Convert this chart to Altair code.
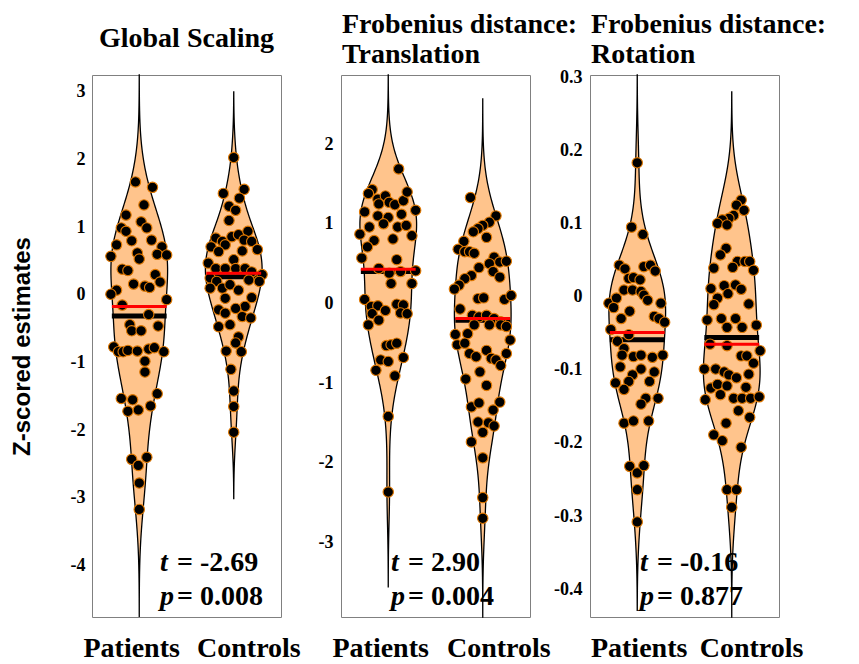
import altair as alt
import pandas as pd

# ---------------- data ----------------
GROUPS = ["Patients", "Controls"]

# Panel 1: Global Scaling
p1_pat_dx = [-0.04, 0.14, 0.05, -0.14, 0.02, -0.19, 0.08, -0.14, -0.08, 0.13, -0.24, 0.24, -0.02, -0.30, 0.00, 0.19, 0.29,
             -0.18, -0.12, 0.17, -0.06, 0.06, 0.11, 0.22, -0.24, -0.30, 0.29, -0.18, 0.10, -0.10, 0.20, -0.08, 0.02,
             -0.27, -0.22, -0.17, -0.12, -0.02, 0.10, 0.16, 0.26, 0.06, 0.06, -0.19, -0.07, 0.19, -0.12, -0.01, 0.12,
             -0.08, -0.01, 0.08, 0.00, 0.00]
p1_pat_v = [1.67, 1.59, 1.33, 1.18, 1.08, 0.99, 0.99, 0.94, 0.80, 0.81, 0.74, 0.71, 0.62, 0.57, 0.53, 0.60, 0.59,
            0.38, 0.36, 0.30, 0.16, 0.13, 0.11, 0.19, 0.07, 0.01, -0.07, -0.15, -0.29, -0.44, -0.46, -0.53, -0.53,
            -0.77, -0.84, -0.84, -0.82, -0.83, -0.80, -0.78, -0.84, -0.98, -1.14, -1.53, -1.55, -1.46, -1.72, -1.70, -1.64,
            -2.43, -2.52, -2.40, -2.78, -3.17]
p1_con_dx = [0.00, -0.11, 0.11, 0.06, -0.05, 0.02, -0.05, -0.19, -0.12, -0.24, -0.09, -0.16, -0.02, 0.05, 0.15, 0.11, 0.19,
             0.25, 0.09, 0.00, -0.27, -0.19, -0.09, 0.02, 0.12, 0.19, 0.30, -0.25, -0.18, -0.25, -0.12, -0.04, 0.05,
             0.16, 0.27, -0.09, 0.19, 0.12, -0.16, -0.09, 0.02, 0.09, 0.18, -0.16, -0.04, 0.05, 0.02, -0.08, 0.08,
             -0.03, 0.00, 0.00, 0.00]
p1_con_v = [2.03, 1.50, 1.56, 1.43, 1.31, 1.25, 1.10, 0.84, 0.79, 0.71, 0.74, 0.64, 0.86, 0.89, 0.94, 0.81, 0.79,
            0.67, 0.65, 0.52, 0.47, 0.39, 0.39, 0.39, 0.39, 0.34, 0.30, 0.25, 0.20, 0.10, 0.10, 0.15, 0.07,
            0.22, 0.20, -0.05, -0.04, -0.17, -0.22, -0.27, -0.20, -0.32, -0.34, -0.47, -0.44, -0.62, -0.71, -0.83, -0.84,
            -1.10, -1.42, -1.65, -2.03]

# Panel 2: Frobenius distance: Translation
p2_pat_dx = [0.11, -0.17, -0.21, -0.11, -0.03, -0.10, 0.01, 0.07, 0.16, 0.20, 0.29, -0.25, -0.11, 0.00, 0.14, -0.20, -0.05,
             0.10, 0.19, -0.30, 0.25, -0.15, 0.05, -0.22, -0.28, 0.09, -0.10, 0.01, 0.13, 0.29, 0.03, 0.25, -0.25,
             -0.18, -0.11, -0.17, -0.03, 0.09, 0.16, 0.13, 0.20, -0.21, -0.10, -0.02, 0.03, 0.09, -0.08, 0.00, 0.16,
             -0.13, 0.07, 0.00, 0.00]
p2_pat_v = [1.69, 1.43, 1.38, 1.31, 1.35, 1.25, 1.27, 1.24, 1.29, 1.40, 1.17, 1.15, 1.10, 1.08, 1.12, 0.96, 1.00,
            0.96, 0.98, 0.87, 0.85, 0.79, 0.81, 0.71, 0.57, 0.55, 0.44, 0.38, 0.40, 0.41, 0.25, 0.25, 0.05,
            -0.04, -0.03, -0.13, -0.09, -0.01, -0.02, -0.12, -0.13, -0.27, -0.21, -0.53, -0.52, -0.50, -0.71, -0.73, -0.68,
            -0.84, -0.91, -1.42, -2.37]
p2_con_dx = [-0.13, 0.14, 0.07, 0.00, -0.05, -0.10, 0.04, -0.20, -0.26, -0.19, -0.14, -0.09, 0.12, 0.07, 0.18, 0.25, -0.04,
             0.11, 0.18, -0.12, -0.19, -0.25, -0.30, -0.05, 0.01, 0.23, 0.30, -0.24, -0.11, -0.04, 0.04, 0.12, 0.19,
             -0.09, 0.07, 0.19, 0.25, -0.29, -0.16, -0.27, -0.19, 0.29, -0.14, -0.07, 0.04, 0.09, 0.14, 0.19, 0.25,
             -0.03, -0.18, 0.04, -0.12, -0.04, 0.18, 0.11, -0.05, 0.06, 0.12, 0.00, -0.12, 0.00, 0.00, 0.00]
p2_con_v = [1.33, 1.10, 1.02, 0.98, 0.94, 0.90, 0.83, 0.78, 0.68, 0.65, 0.65, 0.63, 0.58, 0.50, 0.52, 0.53, 0.45,
            0.40, 0.33, 0.35, 0.31, 0.23, 0.18, 0.06, 0.07, 0.05, 0.10, -0.07, -0.15, -0.17, -0.15, -0.19, -0.23,
            -0.27, -0.27, -0.27, -0.29, -0.39, -0.38, -0.52, -0.50, -0.46, -0.63, -0.67, -0.59, -0.69, -0.71, -0.78, -0.63,
            -0.86, -0.95, -1.03, -1.30, -1.25, -1.24, -1.34, -1.49, -1.50, -1.54, -1.62, -1.74, -1.94, -2.44, -2.70]

# Panel 3: Frobenius distance: Rotation
p3_pat_dx = [0.00, -0.06, 0.06, -0.19, -0.13, 0.07, 0.14, 0.19, -0.09, -0.04, 0.03, -0.14, -0.05, 0.04, 0.07, 0.11, -0.30,
             -0.22, -0.25, -0.08, -0.17, 0.25, 0.18, 0.23, 0.29, -0.28, -0.09, -0.21, -0.14, -0.16, -0.04, 0.04, 0.16,
             0.27, -0.18, 0.04, -0.05, 0.18, -0.23, -0.09, 0.13, -0.14, 0.09, 0.04, 0.22, -0.14, -0.04, 0.12, -0.08,
             0.00, 0.07, 0.00, 0.00]
p3_pat_v = [0.183, 0.095, 0.085, 0.043, 0.038, 0.041, 0.043, 0.035, 0.025, 0.026, 0.023, 0.009, 0.009, 0.007, 0.002, -0.005, -0.009,
            -0.002, -0.015, -0.020, -0.030, -0.009, -0.027, -0.030, -0.035, -0.045, -0.052, -0.061, -0.071, -0.080, -0.082, -0.080, -0.083,
            -0.080, -0.096, -0.099, -0.107, -0.103, -0.118, -0.116, -0.116, -0.127, -0.139, -0.147, -0.139, -0.173, -0.170, -0.170, -0.232,
            -0.241, -0.231, -0.264, -0.308]
p3_con_dx = [0.10, 0.05, 0.13, 0.02, -0.03, -0.10, -0.15, -0.05, -0.06, -0.12, 0.06, 0.14, 0.19, 0.01, -0.19, 0.23, 0.04,
             -0.08, 0.10, -0.22, -0.04, -0.15, -0.19, 0.18, -0.26, -0.11, 0.04, -0.05, 0.11, 0.26, -0.23, -0.05, 0.10,
             0.16, 0.30, 0.23, -0.29, -0.17, -0.08, -0.03, 0.05, 0.18, -0.22, -0.15, -0.05, 0.15, -0.28, -0.12, 0.02,
             0.11, 0.20, 0.29, 0.07, 0.19, -0.06, -0.19, -0.10, 0.10, -0.05, 0.05, 0.00]
p3_con_v = [0.132, 0.125, 0.118, 0.111, 0.107, 0.105, 0.100, 0.098, 0.066, 0.057, 0.048, 0.048, 0.048, 0.040, 0.039, 0.036, 0.016,
            0.015, 0.010, 0.011, 0.004, -0.002, -0.011, -0.010, -0.032, -0.030, -0.030, -0.042, -0.042, -0.039, -0.065, -0.067, -0.081,
            -0.081, -0.074, -0.091, -0.099, -0.099, -0.103, -0.107, -0.111, -0.106, -0.125, -0.120, -0.122, -0.124, -0.141, -0.134, -0.139,
            -0.139, -0.139, -0.137, -0.156, -0.165, -0.173, -0.189, -0.197, -0.206, -0.264, -0.264, -0.288]

# group means (red) and medians (black)
means = [[-0.17, 0.32], [0.43, -0.19], [-0.049, -0.065]]
medians = [[-0.31, 0.27], [0.40, -0.21], [-0.059, -0.056]]

# violin extents [low, high] per group
extents = [
    [[-4.75, 3.25], [-3.01, 3.00]],
    [[-3.56, 2.87], [-3.94, 2.57]],
    [[-0.429, 0.303], [-0.438, 0.280]],
]

# axes
y_domains = [[-4.76, 3.25], [-3.94, 2.87], [-0.438, 0.303]]
y_ticks = [[-4, -3, -2, -1, 0, 1, 2, 3], [-3, -2, -1, 0, 1, 2], [-0.4, -0.3, -0.2, -0.1, 0, 0.1, 0.2, 0.3]]

titles = ["Global Scaling", "Frobenius distance:\nTranslation", "Frobenius distance:\nRotation"]
t_vals = ["-2.69", "2.90", "-0.16"]
p_vals = ["0.008", "0.004", "0.877"]
label_pos = [[0.92, 2.16], [0.92, 2.17], [1.02, 2.21]]

# ---------------- styling ----------------
W, H = 189, 542
FILL = "#FFC48C"
EDGE = "#E07800"
SERIF = "Liberation Serif"
SANS = "Liberation Sans"


def panel(k, pat_dx, pat_v, con_dx, con_v):
    df = pd.DataFrame({
        "group": [1] * len(pat_v) + [2] * len(con_v),
        "dx": pat_dx + con_dx,
        "v": pat_v + con_v,
    })
    yscale = alt.Scale(domain=y_domains[k], nice=False, zero=False)
    xscale = alt.Scale(domain=[0.5, 2.5], nice=False, zero=False)
    if k == 0:
        yaxis = alt.Axis(values=y_ticks[k], labelExpr="'' + datum.value", domain=False, ticks=False, grid=False,
                         labelFont=SERIF, labelFontWeight="bold", labelFontSize=18, labelColor="black",
                         labelPadding=7, title="Z-scored estimates", titleFont=SANS, titleFontSize=24,
                         titleFontWeight="bold", titleColor="black", titlePadding=36)
    else:
        yaxis = alt.Axis(values=y_ticks[k], labelExpr="'' + datum.value", domain=False, ticks=False, grid=False,
                         labelFont=SERIF, labelFontWeight="bold", labelFontSize=18, labelColor="black",
                         labelPadding=8, title=None)

    layers = []
    for gi, g in enumerate([1, 2]):
        v = alt.Chart(df).transform_filter(alt.datum.group == g).transform_density(
            "v", as_=["v", "density"], extent=extents[k][gi], steps=300
        ).transform_joinaggregate(maxd="max(density)").transform_calculate(
            xl=f"{g} - 0.3 * datum.density / datum.maxd",
            xr=f"{g} + 0.3 * datum.density / datum.maxd",
        ).mark_area(orient="horizontal", fill=FILL, stroke="black", strokeWidth=1.3).encode(
            y=alt.Y("v:Q", scale=yscale, axis=yaxis),
            x=alt.X("xl:Q", scale=xscale, axis=None),
            x2="xr:Q",
        )
        layers.append(v)

    stats = pd.DataFrame({"group": [1, 2], "mean": means[k], "median": medians[k]})
    med = alt.Chart(stats).transform_calculate(
        xa="datum.group - 0.29", xb="datum.group + 0.29"
    ).mark_rule(color="black", strokeWidth=5, strokeCap="butt").encode(
        x=alt.X("xa:Q", scale=xscale, axis=None), x2="xb:Q",
        y=alt.Y("median:Q", scale=yscale, axis=yaxis),
    )
    layers.append(med)

    pts = alt.Chart(df).transform_calculate(xp="datum.group + datum.dx").mark_point(
        shape="circle", filled=True, fill="black", stroke=EDGE, strokeWidth=1.1, size=108, opacity=1
    ).encode(
        x=alt.X("xp:Q", scale=xscale, axis=None),
        y=alt.Y("v:Q", scale=yscale, axis=yaxis),
    )
    layers.append(pts)

    mean = alt.Chart(stats).transform_calculate(
        xa="datum.group - 0.29", xb="datum.group + 0.29"
    ).mark_rule(color="#FF0000", strokeWidth=3, strokeCap="butt").encode(
        x=alt.X("xa:Q", scale=xscale, axis=None), x2="xb:Q",
        y=alt.Y("mean:Q", scale=yscale, axis=yaxis),
    )
    layers.append(mean)

    one = pd.DataFrame({"a": [0]})
    # title
    if "\n" in titles[k]:
        tt = alt.Chart(one).mark_text(font=SERIF, fontWeight="bold", fontSize=28, align="left",
                                      baseline="alphabetic", lineBreak="\n", lineHeight=30, color="black").encode(
            x=alt.value(1), y=alt.value(-42), text=alt.value(titles[k]))
    else:
        tt = alt.Chart(one).mark_text(font=SERIF, fontWeight="bold", fontSize=28, align="center",
                                      baseline="alphabetic", color="black").encode(
            x=alt.value(W / 2), y=alt.value(-28), text=alt.value(titles[k]))
    layers.append(tt)

    # statistics annotation
    x0 = 68 if k == 0 else 50
    for letter, val, yy in [("t", t_vals[k], 496), ("p", p_vals[k], 530)]:
        layers.append(alt.Chart(one).mark_text(font=SERIF, fontWeight="bold", fontStyle="italic", fontSize=28,
                                               align="left", baseline="alphabetic", color="black").encode(
            x=alt.value(x0), y=alt.value(yy), text=alt.value(letter)))
        layers.append(alt.Chart(one).mark_text(font=SERIF, fontWeight="bold", fontSize=28,
                                               align="left", baseline="alphabetic", color="black").encode(
            x=alt.value(x0 + 17), y=alt.value(yy), text=alt.value("= " + val)))

    # group labels
    lab = pd.DataFrame({"pos": label_pos[k], "name": GROUPS})
    layers.append(alt.Chart(lab).mark_text(font=SERIF, fontWeight="bold", fontSize=28, align="center",
                                           baseline="alphabetic", color="black").encode(
        x=alt.X("pos:Q", scale=xscale, axis=None), y=alt.value(H + 40), text="name:N"))

    return alt.layer(*layers).properties(width=W, height=H)


p1 = panel(0, p1_pat_dx, p1_pat_v, p1_con_dx, p1_con_v)
p2 = panel(1, p2_pat_dx, p2_pat_v, p2_con_dx, p2_con_v)
p3 = panel(2, p3_pat_dx, p3_pat_v, p3_con_dx, p3_con_v)

chart = alt.hconcat(p1, p2, p3, spacing=60, bounds="flush").configure_view(
    stroke="#808080", strokeWidth=1
).properties(padding={"left": 1, "top": 2, "right": 5, "bottom": 0}, background="white")

chart.save("out.html", embed_options={"renderer": "svg", "actions": False})
